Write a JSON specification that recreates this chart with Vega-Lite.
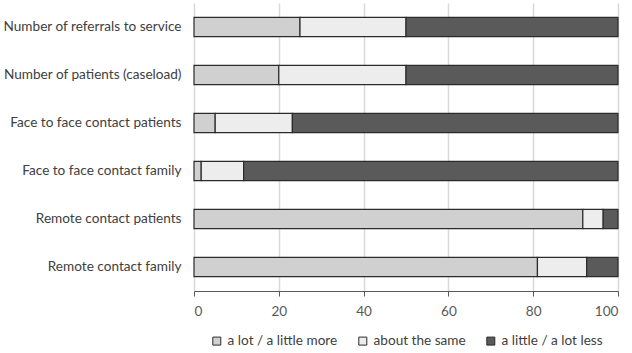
{
  "$schema": "https://vega.github.io/schema/vega-lite/v6.json",
  "width": 424,
  "height": 288,
  "autosize": {"type": "none"},
  "padding": {"left": 194, "top": 3, "right": 14, "bottom": 62},
  "background": "white",
  "data": {
    "values": [
      {"item": "Number of referrals to service", "response": "a lot / a little more", "rank": 1, "pct": 25},
      {"item": "Number of referrals to service", "response": "about the same", "rank": 2, "pct": 25},
      {"item": "Number of referrals to service", "response": "a little / a lot less", "rank": 3, "pct": 50},
      {"item": "Number of patients (caseload)", "response": "a lot / a little more", "rank": 1, "pct": 20},
      {"item": "Number of patients (caseload)", "response": "about the same", "rank": 2, "pct": 30},
      {"item": "Number of patients (caseload)", "response": "a little / a lot less", "rank": 3, "pct": 50},
      {"item": "Face to face contact patients", "response": "a lot / a little more", "rank": 1, "pct": 5},
      {"item": "Face to face contact patients", "response": "about the same", "rank": 2, "pct": 18.2},
      {"item": "Face to face contact patients", "response": "a little / a lot less", "rank": 3, "pct": 76.8},
      {"item": "Face to face contact family", "response": "a lot / a little more", "rank": 1, "pct": 1.7},
      {"item": "Face to face contact family", "response": "about the same", "rank": 2, "pct": 10},
      {"item": "Face to face contact family", "response": "a little / a lot less", "rank": 3, "pct": 88.3},
      {"item": "Remote contact patients", "response": "a lot / a little more", "rank": 1, "pct": 91.7},
      {"item": "Remote contact patients", "response": "about the same", "rank": 2, "pct": 4.8},
      {"item": "Remote contact patients", "response": "a little / a lot less", "rank": 3, "pct": 3.5},
      {"item": "Remote contact family", "response": "a lot / a little more", "rank": 1, "pct": 81},
      {"item": "Remote contact family", "response": "about the same", "rank": 2, "pct": 11.6},
      {"item": "Remote contact family", "response": "a little / a lot less", "rank": 3, "pct": 7.4}
    ]
  },
  "mark": {"type": "bar", "stroke": "#2b2b2b", "strokeWidth": 1.2},
  "encoding": {
    "y": {
      "field": "item",
      "type": "nominal",
      "sort": [
        "Number of referrals to service",
        "Number of patients (caseload)",
        "Face to face contact patients",
        "Face to face contact family",
        "Remote contact patients",
        "Remote contact family"
      ],
      "scale": {"paddingInner": 0.6, "paddingOuter": 0.3},
      "axis": {
        "title": null,
        "domain": false,
        "ticks": false,
        "labelFont": "Lato",
        "labelFontSize": 13.6,
        "labelColor": "#404040",
        "labelPadding": 13,
        "labelLimit": 200
      }
    },
    "x": {
      "field": "pct",
      "type": "quantitative",
      "stack": "zero",
      "scale": {"domain": [0, 100], "nice": false},
      "axis": {
        "title": null,
        "values": [0, 20, 40, 60, 80, 100],
        "grid": true,
        "gridColor": "#d9d9d9",
        "gridWidth": 1.5,
        "domainColor": "#595959",
        "domainWidth": 1.2,
        "tickColor": "#595959",
        "tickSize": 5,
        "labelFont": "Lato",
        "labelFontSize": 13.6,
        "labelColor": "#595959",
        "labelPadding": 8
      }
    },
    "color": {
      "field": "response",
      "type": "nominal",
      "scale": {
        "domain": ["a lot / a little more", "about the same", "a little / a lot less"],
        "range": ["#d0d0d0", "#ededed", "#5a5a5a"]
      },
      "legend": {
        "title": null,
        "orient": "none",
        "legendX": 16,
        "legendY": 331,
        "direction": "horizontal",
        "symbolType": "square",
        "symbolSize": 64,
        "symbolStrokeColor": "#2b2b2b",
        "symbolStrokeWidth": 1,
        "labelOffset": 4,
        "labelFont": "Lato",
        "labelFontSize": 13.6,
        "labelColor": "#404040",
        "columnPadding": 18
      }
    },
    "order": {"field": "rank", "type": "quantitative"}
  },
  "config": {"view": {"stroke": null}}
}
